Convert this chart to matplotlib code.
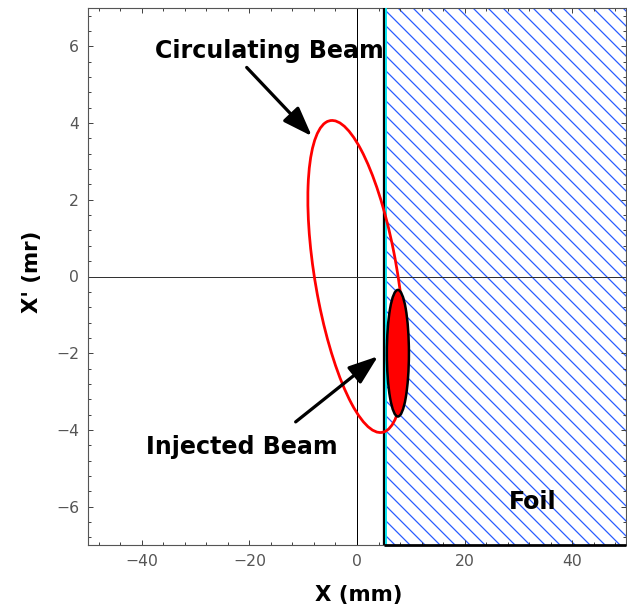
import matplotlib
matplotlib.use("Agg")
import matplotlib.pyplot as plt
from matplotlib.patches import Ellipse, Rectangle
from matplotlib.ticker import MultipleLocator

# ---------------- data ----------------
x_limits = [-50, 50]
y_limits = [-7, 7]
x_major = [-40, -20, 0, 20, 40]
y_major = [-6, -4, -2, 0, 2, 4, 6]
x_minor_step = 4
y_minor_step = 0.4

foil_x = 5.0            # foil edge (mm)
foil_cyan_x = 5.4       # cyan edge line

circ_center = (-0.15, 0.0)   # circulating beam ellipse
circ_width = 18.5
circ_height = 6.85
circ_angle = -14.8

inj_center = (7.6, -2.0)     # injected beam ellipse
inj_width = 4.1
inj_height = 3.3

circ_label = "Circulating Beam"
circ_label_xy = (-16.3, 5.87)
circ_arrow_tail = (-20.5, 5.45)
circ_arrow_head = (-8.4, 3.66)

inj_label = "Injected Beam"
inj_label_xy = (-21.4, -4.44)
inj_arrow_tail = (-11.4, -3.79)
inj_arrow_head = (3.9, -2.08)

foil_label = "Foil"
foil_label_xy = (32.7, -5.87)

x_label = "X (mm)"
y_label = "X' (mr)"

# ---------------- figure ----------------
DPI = 90
plt.rcParams['hatch.linewidth'] = 1.0
plt.rcParams['font.family'] = ['DejaVu Sans']

fig = plt.figure(figsize=(627 / DPI, 608 / DPI), dpi=DPI)
ax = fig.add_axes([88 / 627, 1 - 545 / 608, 538 / 627, 537 / 608])
ax.set_xlim(*x_limits)
ax.set_ylim(*y_limits)

# foil (hatched region)
ymin, ymax = y_limits
foil = Rectangle((foil_x, ymin), x_limits[1] - foil_x + 5, ymax - ymin + 5,
                 facecolor='none', edgecolor='#2a5cff', hatch='\\\\', lw=0, zorder=1)
ax.add_patch(foil)
ax.plot([foil_x, x_limits[1]], [ymin, ymin], color='black', lw=2.2, zorder=5,
        clip_on=False, solid_capstyle='butt')

# axes lines
ax.axvline(0, color='black', lw=0.8, zorder=2)
ax.axhline(0, color='#333333', lw=0.8, zorder=2)

ax.axvline(foil_x, color='black', lw=1.8, zorder=3)
ax.axvline(foil_cyan_x, color='#00e5ee', lw=1.5, zorder=3)

# circulating beam
ax.add_patch(Ellipse(circ_center, circ_width, circ_height, angle=circ_angle,
                     facecolor='none', edgecolor='#ff0000', lw=2.2, zorder=4))
# injected beam
ax.add_patch(Ellipse(inj_center, inj_width, inj_height, angle=0,
                     facecolor='#ff0000', edgecolor='black', lw=2.0, zorder=6))

# labels and arrows
txt_kw = dict(fontsize=19, fontweight='bold', ha='center', va='center', color='black',
              zorder=8)
ax.text(*circ_label_xy, circ_label, **txt_kw)
ax.text(*inj_label_xy, inj_label, **txt_kw)
ax.text(*foil_label_xy, foil_label, **txt_kw)

arrow_kw = dict(arrowstyle='-|>,head_length=1.0,head_width=0.36', color='black',
                lw=2.6, mutation_scale=20, shrinkA=0, shrinkB=0)
ax.annotate('', xy=circ_arrow_head, xytext=circ_arrow_tail, arrowprops=arrow_kw,
            zorder=8)
ax.annotate('', xy=inj_arrow_head, xytext=inj_arrow_tail, arrowprops=arrow_kw,
            zorder=8)

# ticks
ax.set_xticks(x_major)
ax.set_yticks(y_major)
ax.xaxis.set_minor_locator(MultipleLocator(x_minor_step))
ax.yaxis.set_minor_locator(MultipleLocator(y_minor_step))
ax.set_xticklabels([f"{v:d}".replace('-', '\u2212') for v in x_major])
ax.set_yticklabels([f"{v:d}".replace('-', '\u2212') for v in y_major])
ax.tick_params(which='both', direction='in', top=True, right=True, color='#444444',
               labelcolor='#555555', labelsize=12.5, width=0.8)
ax.tick_params(which='major', length=4, pad=7)
ax.tick_params(which='minor', length=2.5)
for s in ax.spines.values():
    s.set_color('#555555')
    s.set_linewidth(0.9)

fig.text(359 / 627, 1 - 595 / 608, x_label, fontsize=17, fontweight='bold',
         ha='center', va='center')
fig.text(32 / 627, 1 - 272 / 608, y_label, fontsize=17, fontweight='bold',
         ha='center', va='center', rotation=90)

fig.savefig("out.png", dpi=DPI)
